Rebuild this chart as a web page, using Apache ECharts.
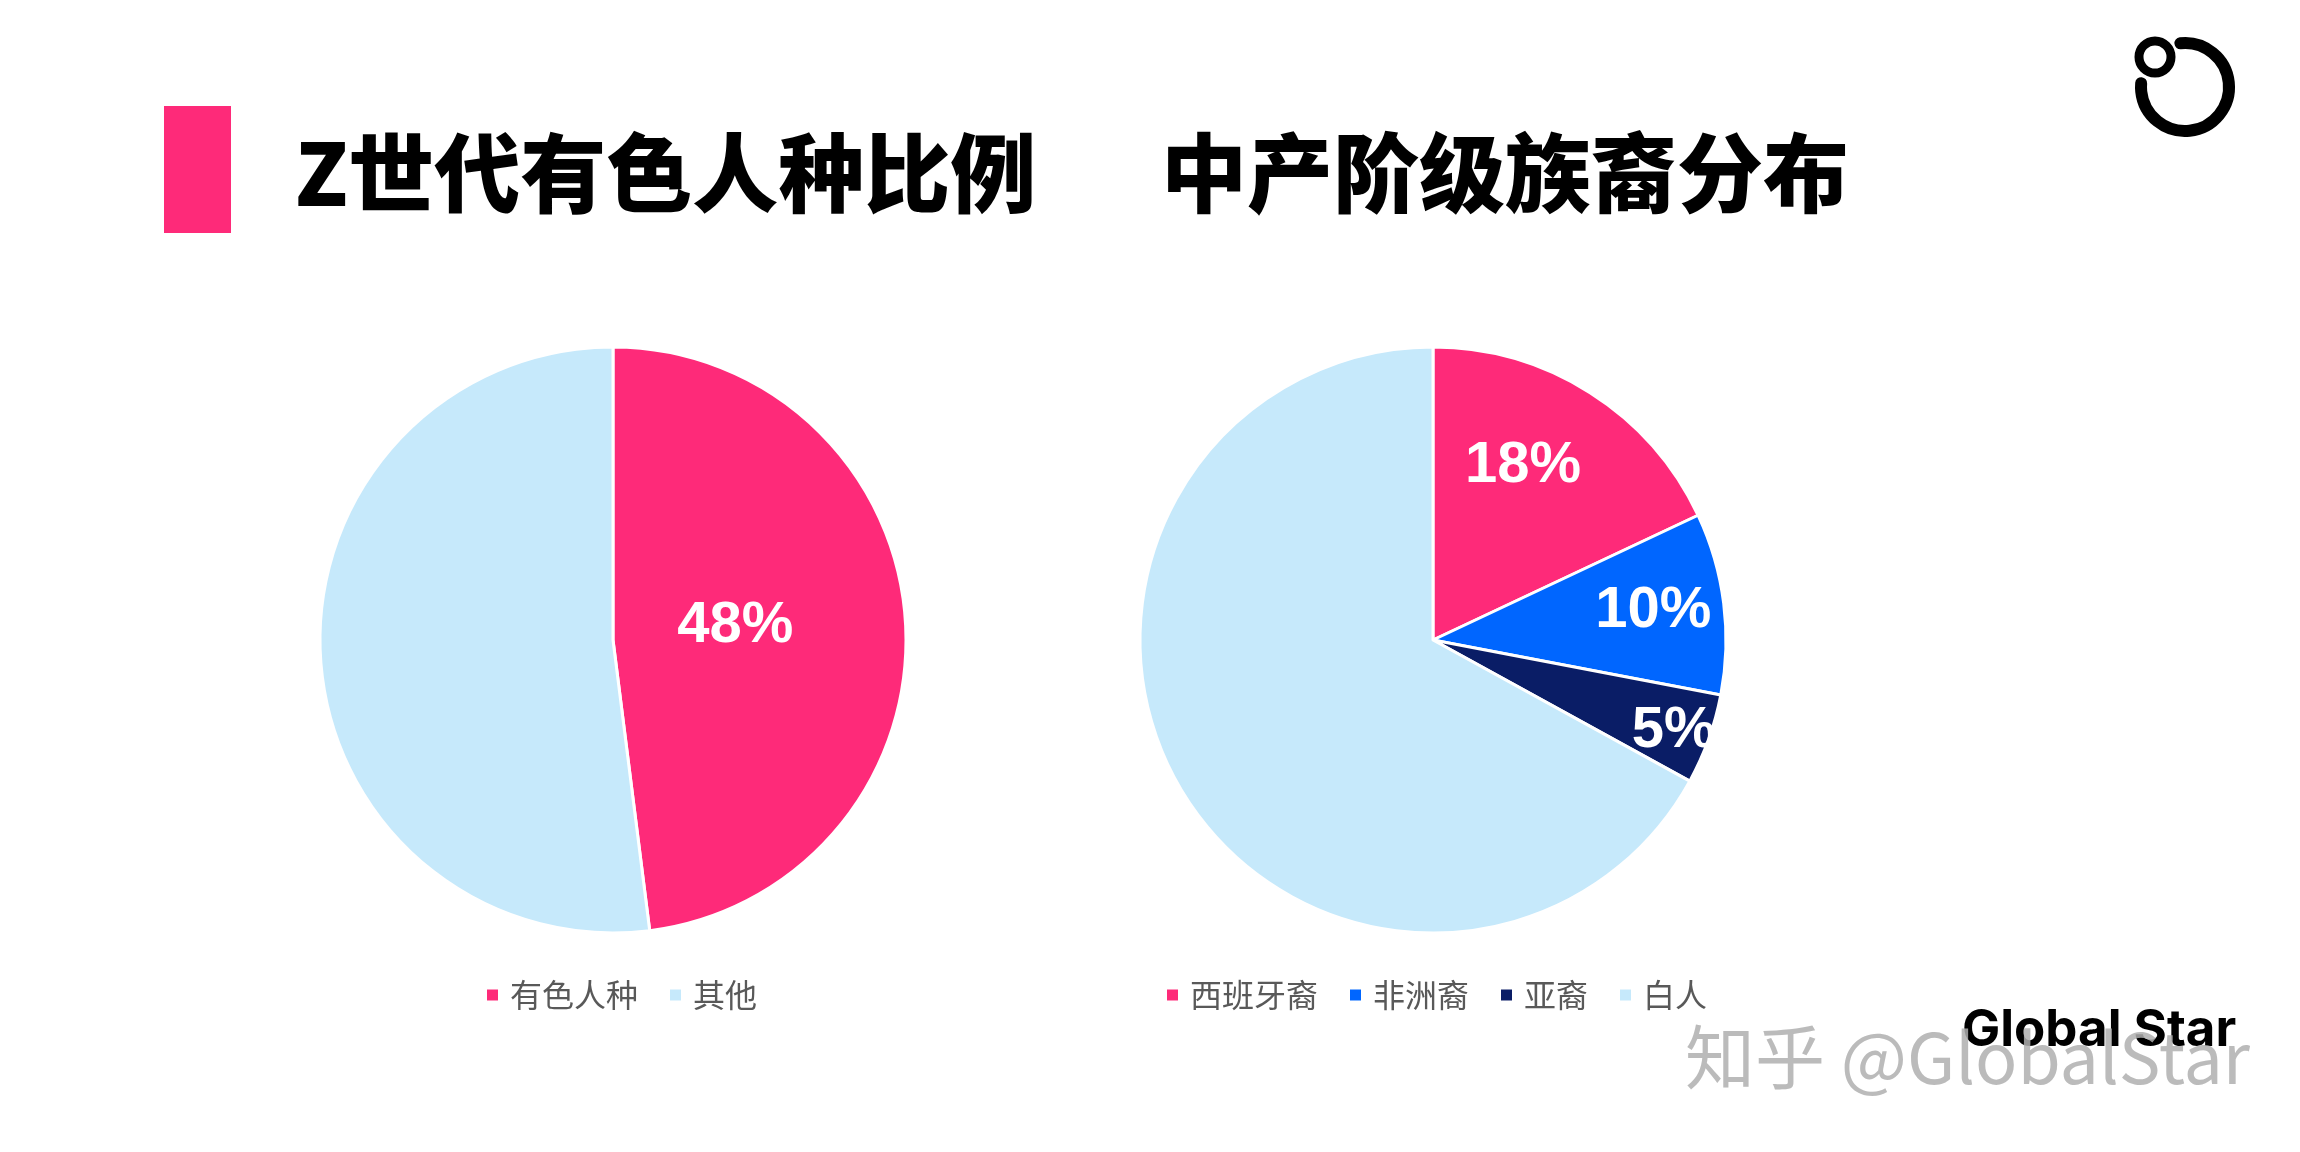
<!DOCTYPE html>
<html>
<head>
<meta charset="utf-8">
<script src="https://cdn.jsdelivr.net/npm/echarts@6/dist/echarts.min.js"></script>
<style>
html,body{margin:0;padding:0;background:#fff;}
#c{width:2300px;height:1152px;}
</style>
</head>
<body>
<div id="c"></div>
<script>
// ---- data ----
var titleLeft = 'Z世代有色人种比例';
var titleRight = '中产阶级族裔分布';
var genZCategories = ['有色人种', '其他'];
var genZValues = [48, 52];
var midCategories = ['西班牙裔', '非洲裔', '亚裔', '白人'];
var midValues = [18, 10, 5, 67];

// ---- styles ----
var genZColors = ['#FE2A79', '#C6E9FB'];
var midColors = ['#FE2A79', '#0066FF', '#0A1D66', '#C6E9FB'];
var genZLabelShow = [true, false];
var midLabelShow = [true, true, true, false];
var genZLabelOffset = [[-27, -5], [0, 0]];
var midLabelOffset = [[10, -48], [72, -10], [100, 40], [0, 0]];

var labelFont = "'Liberation Sans', Arial, sans-serif";

function buildData(cats, vals, colors, shows, offs) {
  return cats.map(function (c, i) {
    return {
      name: c,
      value: vals[i],
      itemStyle: { color: colors[i] },
      label: { show: shows[i], offset: offs[i] }
    };
  });
}

var chart = echarts.init(document.getElementById('c'), null, { renderer: 'canvas' });

var pieCommon = {
  type: 'pie',
  radius: 293,
  startAngle: 90,
  clockwise: true,
  silent: true,
  animation: false,
  itemStyle: { borderColor: '#ffffff', borderWidth: 3 },
  label: {
    position: 'inside',
    formatter: '{c}%',
    color: '#ffffff',
    fontFamily: labelFont,
    fontWeight: 'bold',
    fontSize: 58
  },
  labelLine: { show: false },
  emphasis: { disabled: true }
};

var legendText = {
  color: '#595959',
  fontSize: 32,
  fontFamily: "'Noto Sans CJK SC', sans-serif",
  padding: [0, 0, 0, 6]
};

var option = {
  backgroundColor: '#ffffff',
  animation: false,
  title: [
    {
      text: titleLeft, left: 290, top: 118,
      textStyle: { fontSize: 86, fontWeight: 900, color: '#000', fontFamily: "'Noto Sans CJK SC', sans-serif", lineHeight: 100 }
    },
    {
      text: titleRight, left: 1156, top: 118,
      textStyle: { fontSize: 86, fontWeight: 900, color: '#000', fontFamily: "'Noto Sans CJK SC', sans-serif", lineHeight: 100 }
    }
  ],
  legend: [
    {
      data: genZCategories, left: 480, top: 974, icon: 'rect',
      itemWidth: 13, itemHeight: 13, itemGap: 30,
      textStyle: legendText, selectedMode: false
    },
    {
      data: midCategories, left: 1160, top: 974, icon: 'rect',
      itemWidth: 13, itemHeight: 13, itemGap: 30,
      textStyle: legendText, selectedMode: false
    }
  ],
  series: [
    Object.assign({}, pieCommon, {
      name: 'genZ',
      center: [613, 640],
      data: buildData(genZCategories, genZValues, genZColors, genZLabelShow, genZLabelOffset)
    }),
    Object.assign({}, pieCommon, {
      name: 'mid',
      center: [1433, 640],
      data: buildData(midCategories, midValues, midColors, midLabelShow, midLabelOffset)
    })
  ],
  graphic: [
    { type: 'rect', shape: { x: 164, y: 106, width: 67, height: 127 }, style: { fill: '#FE2A79' } },
    {
      type: 'arc',
      shape: { cx: 2185, cy: 87, r: 44, startAngle: -96 * Math.PI / 180, endAngle: 185 * Math.PI / 180, clockwise: true },
      style: { stroke: '#000', lineWidth: 12, fill: null, lineCap: 'round' }
    },
    {
      type: 'circle',
      shape: { cx: 2155, cy: 57, r: 16 },
      style: { stroke: '#000', lineWidth: 9, fill: null }
    },
    {
      type: 'text', left: 1962, top: 1005,
      style: { text: 'Global Star', fill: '#000', font: "bold 51px Inter, 'Noto Sans', sans-serif" }
    },
    {
      type: 'text', left: 1685, top: 1022,
      style: { text: '知乎 @GlobalStar', fill: 'rgba(175,175,175,0.85)', font: "70px 'Noto Sans CJK SC', sans-serif" }
    }
  ]
};

chart.setOption(option);
</script>
</body>
</html>
